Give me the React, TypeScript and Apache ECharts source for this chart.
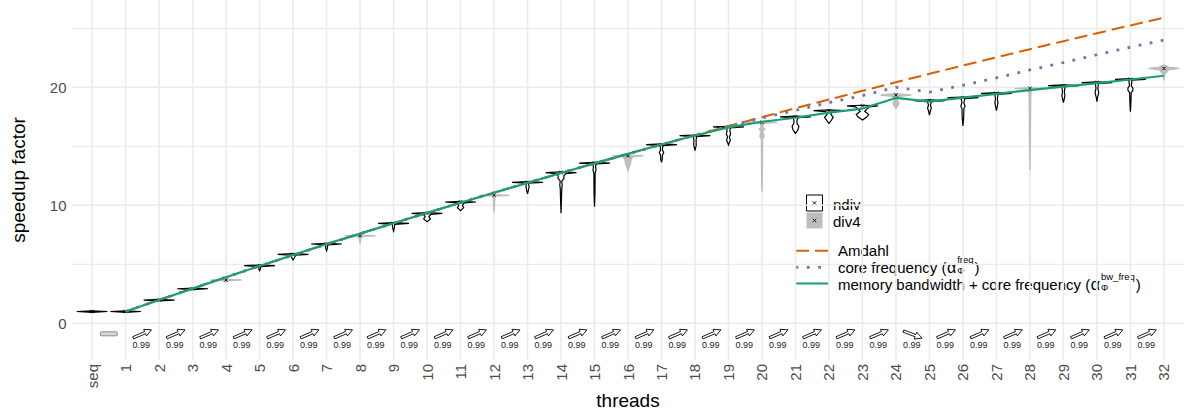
import React, { useEffect, useRef } from 'react';
import * as echarts from 'echarts';

// ---- categories / axes ----
const threadLabels = ['seq', '1', '2', '3', '4', '5', '6', '7', '8', '9', '10', '11', '12', '13', '14', '15', '16',
  '17', '18', '19', '20', '21', '22', '23', '24', '25', '26', '27', '28', '29', '30', '31', '32'];
const runGroup = ['ndiv', 'ndiv', 'ndiv', 'ndiv', 'div4', 'ndiv', 'ndiv', 'ndiv', 'div4', 'ndiv', 'ndiv', 'ndiv', 'div4',
  'ndiv', 'ndiv', 'ndiv', 'div4', 'ndiv', 'ndiv', 'ndiv', 'div4', 'ndiv', 'ndiv', 'ndiv', 'div4', 'ndiv', 'ndiv', 'ndiv',
  'div4', 'ndiv', 'ndiv', 'ndiv', 'div4'];
const yGridMajor = [0, 10, 20];
const yGridMinor = [5, 15, 25];

// ---- measured speedups: median per thread count ----
const medianSpeedup = [1.0, 1.0, 1.97, 2.93, 3.67, 4.88, 5.85, 6.72, 7.42, 8.47, 9.32, 10.28, 10.85, 11.95, 12.77,
  13.58, 14.2, 15.14, 15.9, 16.64, 17.03, 17.5, 18.02, 18.42, 19.35, 18.87, 19.12, 19.49, 19.91, 20.14, 20.4, 20.68, 21.6];

// density profile of each run: [speedup, relative density], top to bottom
const violinProfiles: number[][][] = [
  [[1.06, 0], [1.0, 1], [0.93, 0]],
  [[1.06, 0], [1.0, 1], [0.93, 0]],
  [[2.03, 0], [1.97, 1], [1.9, 0]],
  [[2.99, 0], [2.93, 1], [2.86, 0]],
  [[3.73, 0], [3.67, 1], [3.6, 0.04], [3.52, 0]],
  [[4.94, 0], [4.88, 1], [4.8, 0.06], [4.6, 0.05], [4.46, 0]],
  [[5.91, 0], [5.85, 1], [5.77, 0.18], [5.6, 0.1], [5.36, 0]],
  [[6.78, 0], [6.72, 1], [6.64, 0.07], [6.35, 0.05], [6.15, 0]],
  [[7.48, 0], [7.42, 1], [7.34, 0.06], [7.0, 0.04], [6.83, 0]],
  [[8.53, 0], [8.47, 1], [8.39, 0.07], [8.1, 0.06], [7.82, 0]],
  [[9.38, 0], [9.32, 1], [9.24, 0.25], [9.05, 0.12], [8.85, 0.22], [8.61, 0]],
  [[10.34, 0], [10.28, 1], [10.2, 0.25], [10.0, 0.12], [9.8, 0.2], [9.54, 0]],
  [[10.91, 0], [10.85, 1], [10.77, 0.05], [10.2, 0.04], [9.46, 0]],
  [[12.01, 0], [11.95, 1], [11.87, 0.06], [11.55, 0.1], [11.25, 0.05], [10.96, 0]],
  [[12.83, 0], [12.77, 1], [12.69, 0.3], [12.5, 0.18], [12.3, 0.2], [12.05, 0.05], [11.7, 0.08], [11.45, 0.05], [10.5, 0.03], [9.32, 0]],
  [[13.64, 0], [13.58, 1], [13.5, 0.1], [13.3, 0.07], [13.0, 0.1], [12.7, 0.04], [11.0, 0.03], [9.88, 0]],
  [[14.26, 0], [14.2, 1], [14.1, 0.3], [13.85, 0.2], [13.5, 0.15], [13.2, 0.07], [12.93, 0]],
  [[15.2, 0], [15.14, 1], [15.06, 0.08], [14.7, 0.06], [14.45, 0.14], [14.25, 0.06], [13.9, 0.05], [13.64, 0]],
  [[15.96, 0], [15.9, 1], [15.82, 0.1], [15.5, 0.07], [15.1, 0.08], [14.63, 0]],
  [[16.7, 0], [16.64, 1], [16.56, 0.1], [16.25, 0.1], [16.05, 0.14], [15.8, 0.06], [15.5, 0.12], [15.3, 0.05], [15.11, 0]],
  [[17.09, 0], [17.03, 1], [16.95, 0.08], [16.6, 0.06], [16.44, 0.18], [16.25, 0.05], [15.85, 0.14], [15.6, 0.04], [13.0, 0.03], [11.15, 0]],
  [[17.56, 0], [17.5, 1], [17.42, 0.16], [17.2, 0.1], [16.95, 0.1], [16.7, 0.22], [16.4, 0.16], [16.1, 0]],
  [[18.08, 0], [18.02, 1], [17.94, 0.2], [17.7, 0.12], [17.45, 0.28], [17.2, 0.15], [16.95, 0]],
  [[18.48, 0], [18.42, 1], [18.34, 0.45], [18.15, 0.28], [17.95, 0.15], [17.7, 0.4], [17.5, 0.3], [17.23, 0]],
  [[19.47, 0], [19.35, 1], [19.24, 0.25], [18.95, 0.06], [18.65, 0.2], [18.45, 0.12], [18.2, 0]],
  [[18.93, 0], [18.87, 1], [18.79, 0.14], [18.5, 0.06], [18.25, 0.12], [17.95, 0.05], [17.65, 0]],
  [[19.18, 0], [19.12, 1], [19.04, 0.12], [18.7, 0.06], [18.4, 0.14], [18.2, 0.06], [17.5, 0.05], [16.72, 0]],
  [[19.55, 0], [19.49, 1], [19.41, 0.1], [19.0, 0.06], [18.7, 0.1], [18.35, 0.05], [18.02, 0]],
  [[19.97, 0], [19.91, 1], [19.82, 0.1], [19.4, 0.06], [19.0, 0.05], [15.5, 0.03], [12.99, 0]],
  [[20.2, 0], [20.14, 1], [20.06, 0.1], [19.6, 0.06], [19.3, 0.1], [19.0, 0.05], [18.7, 0]],
  [[20.46, 0], [20.4, 1], [20.32, 0.1], [19.9, 0.06], [19.55, 0.12], [19.2, 0.05], [18.78, 0]],
  [[20.74, 0], [20.68, 1], [20.6, 0.1], [20.1, 0.06], [19.95, 0.16], [19.75, 0.16], [19.55, 0.05], [18.6, 0.03], [17.93, 0]],
  [[21.9, 0], [21.72, 0.3], [21.6, 1], [21.48, 0.3], [21.1, 0.06], [20.6, 0]],
];

// ---- model predictions ----
const modelThreads = [1, 2, 3, 4, 5, 6, 7, 8, 9, 10, 11, 12, 13, 14, 15, 16, 17, 18, 19, 20, 21, 22, 23, 24, 25, 26,
  27, 28, 29, 30, 31, 32];
const amdahl = [1.0, 1.985, 2.955, 3.911, 4.853, 5.78, 6.695, 7.596, 8.484, 9.36, 10.223, 11.074, 11.913, 12.741,
  13.557, 14.362, 15.157, 15.941, 16.714, 17.476, 18.229, 18.972, 19.705, 20.429, 21.142, 21.848, 22.543, 23.234,
  23.912, 24.582, 25.246, 25.9];
const coreFrequency = [1.0, 1.985, 2.955, 3.911, 4.853, 5.78, 6.695, 7.596, 8.484, 9.36, 10.223, 11.074, 11.913,
  12.741, 13.557, 14.362, 15.157, 15.941, 16.7, 17.4, 18.05, 18.7, 19.3, 20.0, 19.6, 20.17, 20.8, 21.47, 22.1,
  22.76, 23.4, 24.0];
const bwCoreFrequency = [1.0, 1.98, 2.94, 3.9, 4.86, 5.79, 6.72, 7.6, 8.48, 9.36, 10.22, 11.07, 11.9, 12.74, 13.55,
  14.36, 15.15, 15.92, 16.6, 17.08, 17.42, 17.85, 18.2, 19.1, 18.78, 19.12, 19.45, 19.76, 20.06, 20.36, 20.66, 20.98];

// ---- trend between neighbouring thread counts (x = midpoint) ----
const trendPosition = [0.5, 1.5, 2.5, 3.5, 4.5, 5.5, 6.5, 7.5, 8.5, 9.5, 10.5, 11.5, 12.5, 13.5, 14.5, 15.5, 16.5,
  17.5, 18.5, 19.5, 20.5, 21.5, 22.5, 23.5, 24.5, 25.5, 26.5, 27.5, 28.5, 29.5, 30.5, 31.5];
const trendDirection = [0, 1, 1, 1, 1, 1, 1, 1, 1, 1, 1, 1, 1, 1, 1, 1, 1, 1, 1, 1, 1, 1, 1, 1, -1, 1, 1, 1, 1, 1, 1, 1];
const trendProbability = ['', '0.99', '0.99', '0.99', '0.99', '0.99', '0.99', '0.99', '0.99', '0.99', '0.99', '0.99',
  '0.99', '0.99', '0.99', '0.99', '0.99', '0.99', '0.99', '0.99', '0.99', '0.99', '0.99', '0.99', '0.99', '0.99',
  '0.99', '0.99', '0.99', '0.99', '0.99', '0.99'];

const X_MIN = -0.6;
const X_MAX = 32.6;
const Y_MIN = -3.11;
const Y_MAX = 27.4;
const VIOLIN_HALF = 0.46;

const FONT = '"Liberation Sans", Arial, Helvetica, sans-serif';
const GRID = '#EBEBEB';
const AXIS_TEXT = '#4D4D4D';
const GREY = '#BEBEBE';
const C_AMDAHL = '#D95F02';
const C_FREQ = '#7570B3';
const C_BW = '#1B9E77';

const ARROW_POINTS = [[-10, -1.2], [3, -1.2], [3, -3.6], [10, 0], [3, 3.6], [3, 1.2], [-10, 1.2]];

function cross(cx: number, cy: number, r: number) {
  return [
    { type: 'line', shape: { x1: cx - r, y1: cy - r, x2: cx + r, y2: cy + r }, style: { stroke: '#000', lineWidth: 0.9 } },
    { type: 'line', shape: { x1: cx - r, y1: cy + r, x2: cx + r, y2: cy - r }, style: { stroke: '#000', lineWidth: 0.9 } },
  ];
}

export default function App() {
  const ref = useRef<HTMLDivElement>(null);

  useEffect(() => {
    document.body.style.margin = '0';
    const chart = echarts.init(ref.current!, null, { renderer: 'svg' });

    const ctx = document.createElement('canvas').getContext('2d')!;
    const textWidth = (t: string, size: number) => {
      ctx.font = `${size}px "Liberation Sans", Arial, sans-serif`;
      return ctx.measureText(t).width;
    };

    const txt = (text: string, x: number, y: number, size: number, extra: any = {}) => ({
      type: 'text', x, y,
      style: { text, fontSize: size, fontFamily: FONT, fill: '#000', align: 'left', verticalAlign: 'middle', ...extra },
    });

    // legend with plotmath-like labels
    const LX = 838;
    const mathLabel = (prefix: string, sup: string, y: number) => {
      const els: any[] = [];
      const w0 = textWidth(prefix, 15);
      els.push(txt(prefix, LX, y, 15));
      const ax = LX + w0 + 0.5;
      els.push(txt('α', ax, y + 0.5, 16));
      const sx = ax + textWidth('α', 16) + 1;
      els.push(txt('Φ', sx, y + 4, 9));
      els.push(txt(sup, sx, y - 7.5, 9.5));
      const sw = Math.max(textWidth('Φ', 9), textWidth(sup, 9.5));
      els.push(txt(')', sx + sw + 1, y, 15));
      return els;
    };

    const legend: any[] = [
      { type: 'rect', shape: { x: 806.5, y: 195, width: 16, height: 16 }, style: { fill: '#fff', stroke: '#000', lineWidth: 1 } },
      ...cross(814.5, 203, 1.8),
      { type: 'rect', shape: { x: 806.5, y: 212.5, width: 16, height: 16 }, style: { fill: GREY } },
      ...cross(814.5, 220.5, 1.8),
      txt('ndiv', 833, 204, 15),
      txt('div4', 833, 221.5, 15),
      { type: 'line', shape: { x1: 796, y1: 250.7, x2: 829, y2: 250.7 }, style: { stroke: C_AMDAHL, lineWidth: 2, lineDash: [13, 6] } },
      { type: 'line', shape: { x1: 795.5, y1: 267.3, x2: 829, y2: 267.3 }, style: { stroke: C_FREQ, lineWidth: 2.8, lineDash: [2.8, 8.5] } },
      { type: 'line', shape: { x1: 796, y1: 283.5, x2: 829, y2: 283.5 }, style: { stroke: C_BW, lineWidth: 2 } },
      txt('Amdahl', LX, 250.5, 15),
      ...mathLabel('core frequency (', 'freq', 267.3),
      ...mathLabel('memory bandwidth + core frequency (', 'bw_freq', 284),
      // axis titles
      { type: 'text', x: 18, y: 180, rotation: Math.PI / 2,
        style: { text: 'speedup factor', fontSize: 19, fontFamily: FONT, fill: '#000', align: 'center', verticalAlign: 'middle' } },
      { type: 'text', x: 628, y: 400,
        style: { text: 'threads', fontSize: 19, fontFamily: FONT, fill: '#000', align: 'center', verticalAlign: 'middle' } },
    ];

    const option: any = {
      animation: false,
      grid: { left: 72, right: 8, top: 0, bottom: 55 },
      xAxis: { type: 'value', min: X_MIN, max: X_MAX, show: false },
      yAxis: { type: 'value', min: Y_MIN, max: Y_MAX, show: false },
      graphic: legend,
      series: [
        // horizontal grid + y tick labels
        {
          type: 'custom', silent: true, z: 0,
          data: [...yGridMinor.map((v) => [X_MIN, v, 0]), ...yGridMajor.map((v) => [X_MIN, v, 1])],
          renderItem: (params: any, api: any) => {
            const v = api.value(1);
            const major = api.value(2) === 1;
            const a = api.coord([X_MIN, v]);
            const b = api.coord([X_MAX, v]);
            const children: any[] = [
              { type: 'line', shape: { x1: a[0], y1: a[1], x2: b[0], y2: b[1] }, style: { stroke: GRID, lineWidth: major ? 1.6 : 1.3 } },
            ];
            if (major) {
              children.push({ type: 'text', x: a[0] - 5.5, y: a[1],
                style: { text: String(v), fontSize: 15, fontFamily: FONT, fill: AXIS_TEXT, align: 'right', verticalAlign: 'middle' } });
            }
            return { type: 'group', children };
          },
        },
        // vertical grid + x tick labels
        {
          type: 'custom', silent: true, z: 0,
          data: threadLabels.map((_, i) => [i, Y_MIN]),
          renderItem: (params: any, api: any) => {
            const i = api.value(0);
            const a = api.coord([i, Y_MIN]);
            const b = api.coord([i, Y_MAX]);
            return {
              type: 'group',
              children: [
                { type: 'line', shape: { x1: a[0], y1: a[1], x2: b[0], y2: b[1] }, style: { stroke: GRID, lineWidth: 1.6 } },
                { type: 'text', x: a[0], y: a[1] + 4, rotation: Math.PI / 2,
                  style: { text: threadLabels[params.dataIndex], fontSize: 15, fontFamily: FONT, fill: AXIS_TEXT, align: 'right', verticalAlign: 'middle' } },
              ],
            };
          },
        },
        // trend arrows with probabilities
        {
          type: 'custom', silent: true, z: 1,
          data: trendPosition.map((x, i) => [x, 0, trendDirection[i]]),
          renderItem: (params: any, api: any) => {
            const x = api.value(0);
            const dir = api.value(2);
            const p = api.coord([x, 0]);
            const cx = p[0];
            const cy = p[1] + 10.5;
            if (dir === 0) {
              return { type: 'rect', shape: { x: cx - 8.5, y: cy - 2, width: 17, height: 4, r: 1 },
                style: { fill: '#d6d6d6', stroke: '#8c8c8c', lineWidth: 1 } };
            }
            return {
              type: 'group',
              children: [
                { type: 'polygon', x: cx, y: cy + (dir > 0 ? 0 : 0.8), rotation: dir > 0 ? 0.41 : -0.36,
                  shape: { points: ARROW_POINTS }, style: { fill: '#fff', stroke: '#000', lineWidth: 0.8 } },
                { type: 'text', x: cx - 1, y: cy + 11,
                  style: { text: trendProbability[params.dataIndex], fontSize: 9, fontFamily: FONT, fill: '#222', align: 'center', verticalAlign: 'middle' } },
              ],
            };
          },
        },
        // violins
        {
          type: 'custom', silent: true, z: 2,
          data: medianSpeedup.map((m, i) => [i, m]),
          renderItem: (params: any, api: any) => {
            const idx = params.dataIndex;
            const x = api.value(0);
            const prof = violinProfiles[idx];
            const hw = api.size([VIOLIN_HALF, 0])[0];
            const right = prof.map(([v, w]) => { const c = api.coord([x, v]); return [c[0] + w * hw, c[1]]; });
            const left = prof.slice().reverse().map(([v, w]) => { const c = api.coord([x, v]); return [c[0] - w * hw, c[1]]; });
            const grey = runGroup[idx] === 'div4';
            const m = api.coord([x, api.value(1)]);
            return {
              type: 'group',
              children: [
                { type: 'polygon', shape: { points: right.concat(left) },
                  style: { fill: grey ? GREY : '#fff', stroke: grey ? GREY : '#000', lineWidth: grey ? 1.3 : 1.2 } },
                ...cross(m[0], m[1], 1.7),
              ],
            };
          },
        },
        {
          type: 'line', silent: true, z: 4, symbol: 'none',
          data: modelThreads.map((t, i) => [t, amdahl[i]]),
          lineStyle: { color: C_AMDAHL, width: 2, type: [13, 6] },
        },
        {
          type: 'line', silent: true, z: 4, symbol: 'none',
          data: modelThreads.map((t, i) => [t, coreFrequency[i]]),
          lineStyle: { color: C_FREQ, width: 2.8, type: [2.8, 8.5] },
        },
        {
          type: 'line', silent: true, z: 4, symbol: 'none',
          data: modelThreads.map((t, i) => [t, bwCoreFrequency[i]]),
          lineStyle: { color: C_BW, width: 2.2 },
        },
      ],
    };

    chart.setOption(option);
    return () => chart.dispose();
  }, []);

  return <div ref={ref} style={{ width: 1192, height: 415 }} />;
}
